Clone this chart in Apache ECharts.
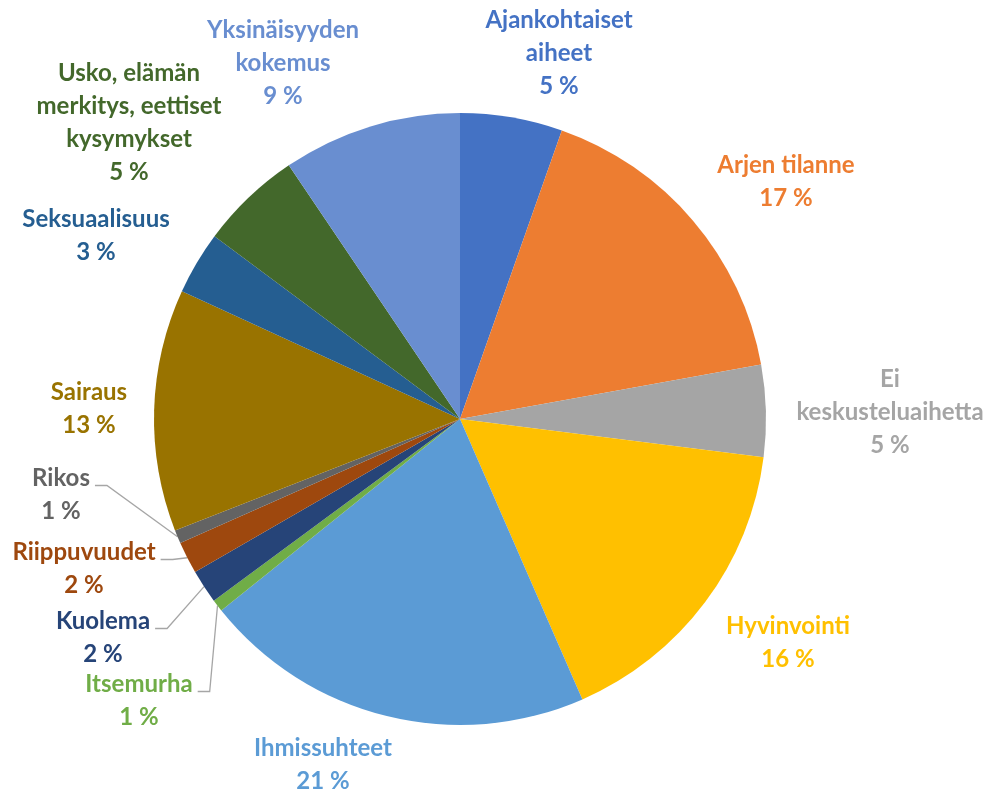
<!DOCTYPE html>
<html>
<head>
<meta charset="utf-8">
<script src="https://cdn.jsdelivr.net/npm/echarts@6/dist/echarts.min.js"></script>
<style>
    html, body { margin: 0; padding: 0; background: #fff; }
    #chart { width: 997px; height: 793px; }
</style>
</head>
<body>
<div id="chart"></div>
<script>
(function() {
    // aiheet myötäpäivään klo 12:sta alkaen
    var categories = [
        "Ajankohtaiset\naiheet",
        "Arjen tilanne",
        "Ei\nkeskusteluaihetta",
        "Hyvinvointi",
        "Ihmissuhteet",
        "Itsemurha",
        "Kuolema",
        "Riippuvuudet",
        "Rikos",
        "Sairaus",
        "Seksuaalisuus",
        "Usko, elämän\nmerkitys, eettiset\nkysymykset",
        "Yksinäisyyden\nkokemus"
    ];
    var values = [5.4, 16.75, 4.85, 16.45, 20.79, 0.64, 1.78, 1.7, 0.71, 12.78, 3.33, 5.37, 9.45];
    var colors = ["#4472C4", "#ED7D31", "#A5A5A5", "#FFC000", "#5B9BD5", "#70AD47", "#264478",
        "#9E480E", "#636363", "#997300", "#255E91", "#43682B", "#698ED0"];

    // label block centres, px
    var labelPos = [
        [559, 53], [786, 182], [890, 412], [788, 643], [323, 765], [139, 701], [103, 638],
        [84, 569], [61, 495], [89, 409], [96, 236], [129, 123], [283, 63]
    ];
    var leader = ["Itsemurha", "Kuolema", "Riippuvuudet", "Rikos"];

    var cx = 460, cy = 419, R = 306, lineH = 33;
    var total = values.reduce(function(a, b) { return a + b; }, 0);

    function edgePoint(i) {
        var before = 0, k;
        for (k = 0; k < i; k++) before += values[k];
        var a = (before + values[i] / 2) / total * Math.PI * 2;
        return [cx + R * Math.sin(a), cy - R * Math.cos(a)];
    }

    var data = categories.map(function(name, i) {
        var hasLine = leader.indexOf(name) >= 0;
        return {
            name: name,
            value: values[i],
            itemStyle: { color: colors[i] },
            label: { color: colors[i] },
            labelLine: { show: hasLine }
        };
    });

    var chart = echarts.init(document.getElementById("chart"), null, { renderer: "canvas" });
    chart.setOption({
        backgroundColor: "#fff",
        animation: false,
        series: [{
            type: "pie",
            center: [cx, cy],
            radius: R,
            startAngle: 90,
            clockwise: true,
            avoidLabelOverlap: false,
            data: data,
            itemStyle: { borderWidth: 0 },
            label: {
                show: true,
                position: "outside",
                fontFamily: "Lato",
                fontWeight: "bold",
                fontSize: 24,
                lineHeight: lineH,
                align: "center",
                formatter: function(p) {
                    return p.name + "\n" + Math.round(p.value) + " %";
                }
            },
            labelLine: {
                lineStyle: { color: "#A6A6A6", width: 1.3 }
            },
            labelLayout: function(p) {
                var i = p.dataIndex,
                    pos = labelPos[i],
                    out = { x: pos[0], y: pos[1], align: "center", verticalAlign: "middle" };
                if (leader.indexOf(categories[i]) >= 0) {
                    var right = pos[0] + p.labelRect.width / 2 + 5,
                        ly = pos[1] - lineH / 2 + 7;
                    out.labelLinePoints = [[right, ly], [right + 12, ly], edgePoint(i)];
                }
                return out;
            }
        }]
    });
}());
</script>
</body>
</html>
